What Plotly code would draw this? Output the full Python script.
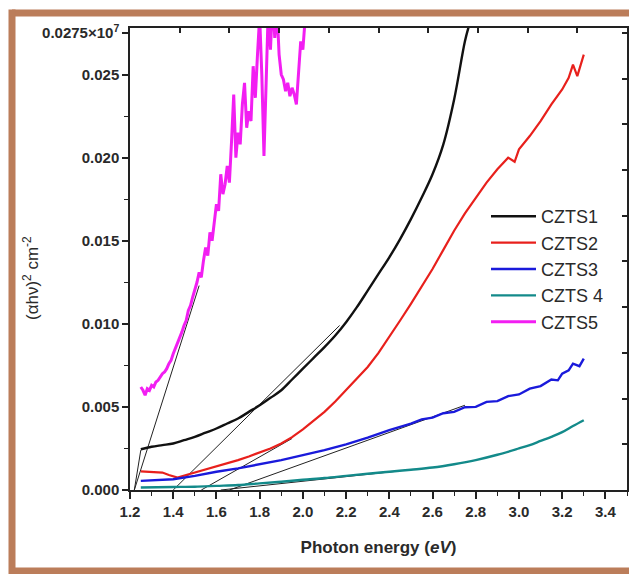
import plotly.graph_objects as go

# ---------------- data ----------------
czts1_x = [1.25, 1.30, 1.35, 1.40, 1.45, 1.50, 1.55, 1.60, 1.65, 1.70, 1.75, 1.80, 1.85, 1.90,
           1.95, 2.00, 2.05, 2.10, 2.15, 2.20, 2.25, 2.30, 2.35, 2.40, 2.45, 2.50, 2.55, 2.60,
           2.65, 2.70, 2.75, 2.77]
czts1_y = [0.00245, 0.0026, 0.0027, 0.0028, 0.0030, 0.0032, 0.00345, 0.0037, 0.0040, 0.0043,
           0.0047, 0.0051, 0.00555, 0.0060, 0.00665, 0.0073, 0.00795, 0.0086, 0.0093, 0.0101,
           0.0110, 0.0120, 0.0130, 0.0140, 0.0151, 0.0163, 0.0176, 0.0190, 0.0208, 0.0235,
           0.0270, 0.0280]

czts2_x = [1.25, 1.30, 1.35, 1.38, 1.42, 1.46, 1.50, 1.55, 1.60, 1.65, 1.70, 1.75, 1.80, 1.85,
           1.90, 1.95, 2.00, 2.05, 2.10, 2.15, 2.20, 2.25, 2.30, 2.35, 2.40, 2.45, 2.50, 2.55,
           2.60, 2.65, 2.70, 2.75, 2.80, 2.85, 2.90, 2.95, 2.98, 3.00, 3.05, 3.10, 3.15, 3.20,
           3.23, 3.25, 3.27, 3.30]
czts2_y = [0.00112, 0.00110, 0.00105, 0.00090, 0.00075, 0.00090, 0.00105, 0.00122, 0.00140,
           0.00160, 0.00180, 0.00202, 0.00225, 0.00250, 0.00280, 0.00318, 0.00365, 0.00415,
           0.00470, 0.00532, 0.00600, 0.00668, 0.00740, 0.00825, 0.00920, 0.01020, 0.01120,
           0.01225, 0.01330, 0.01445, 0.01560, 0.01665, 0.01760, 0.01850, 0.01930, 0.02000,
           0.01975, 0.02050, 0.02130, 0.02220, 0.02320, 0.02410, 0.02480, 0.02560, 0.02490,
           0.02620]

czts3_x = [1.25, 1.30, 1.40, 1.50, 1.60, 1.70, 1.80, 1.90, 2.00, 2.10, 2.20, 2.30, 2.40, 2.50,
           2.55, 2.60, 2.65, 2.70, 2.75, 2.80, 2.85, 2.90, 2.95, 3.00, 3.05, 3.10, 3.15, 3.18,
           3.20, 3.23, 3.25, 3.28, 3.30]
czts3_y = [0.00055, 0.00058, 0.00065, 0.00085, 0.00110, 0.00130, 0.00155, 0.00180, 0.00210,
           0.00240, 0.00275, 0.00315, 0.00360, 0.00400, 0.00425, 0.00435, 0.00462, 0.00470,
           0.00498, 0.00500, 0.00530, 0.00535, 0.00565, 0.00575, 0.00610, 0.00625, 0.00665,
           0.00660, 0.00700, 0.00720, 0.00760, 0.00745, 0.00790]

czts4_x = [1.25, 1.40, 1.50, 1.60, 1.70, 1.80, 1.90, 2.00, 2.10, 2.20, 2.30, 2.40, 2.50, 2.60,
           2.70, 2.80, 2.90, 3.00, 3.05, 3.10, 3.15, 3.20, 3.25, 3.30]
czts4_y = [0.00015, 0.00018, 0.00020, 0.00025, 0.00030, 0.00040, 0.00050, 0.00062, 0.00072,
           0.00085, 0.00098, 0.00110, 0.00122, 0.00135, 0.00155, 0.00180, 0.00212, 0.00250,
           0.00270, 0.00295, 0.00320, 0.00348, 0.00385, 0.00420]

czts5_x = [1.25, 1.26, 1.27, 1.28, 1.29, 1.30, 1.31, 1.32, 1.33, 1.34, 1.35, 1.36, 1.37, 1.38,
           1.39, 1.40, 1.41, 1.42, 1.43, 1.44, 1.45, 1.46, 1.47, 1.48, 1.49, 1.50, 1.51, 1.52,
           1.53, 1.54, 1.55, 1.56, 1.57, 1.58, 1.59, 1.60, 1.61, 1.62, 1.63, 1.64, 1.65, 1.66,
           1.67, 1.68, 1.69, 1.70, 1.71, 1.72, 1.73, 1.74, 1.75, 1.76, 1.77, 1.78, 1.79, 1.80,
           1.81, 1.82, 1.83, 1.84, 1.85, 1.86, 1.87, 1.88, 1.89, 1.90, 1.91, 1.92, 1.93, 1.94,
           1.95, 1.96, 1.97, 1.98, 1.99, 2.00, 2.01, 2.02]
czts5_y = [0.0062, 0.0060, 0.0057, 0.0061, 0.0060, 0.0063, 0.0062, 0.0065, 0.0066, 0.0068,
           0.0070, 0.0071, 0.0073, 0.0076, 0.0078, 0.0082, 0.0085, 0.0088, 0.0092, 0.0095,
           0.0099, 0.0102, 0.0108, 0.0111, 0.0116, 0.0120, 0.0125, 0.0131, 0.0128, 0.0138,
           0.0146, 0.0141, 0.0155, 0.0150, 0.0163, 0.0172, 0.0168, 0.0190, 0.0178, 0.0184,
           0.0195, 0.0185, 0.0210, 0.0238, 0.0200, 0.0215, 0.0208, 0.0232, 0.0245, 0.0218,
           0.0228, 0.0222, 0.0255, 0.0236, 0.0262, 0.0285, 0.0250, 0.0201, 0.0245, 0.0290,
           0.0265, 0.0295, 0.0272, 0.0290, 0.0262, 0.0250, 0.0247, 0.0240, 0.0245, 0.0237,
           0.0242, 0.0238, 0.0232, 0.0250, 0.0270, 0.0265, 0.0290, 0.0300]

# tangent (extrapolation) lines: [x0, x1], [y0, y1]
tangents = [
    ([1.22, 1.52], [0.0, 0.0123]),   # CZTS5
    ([1.22, 1.25], [0.0, 0.0024]),
    ([1.40, 2.17], [0.0, 0.0099]),   # CZTS1
    ([1.53, 1.95], [0.0, 0.0031]),   # CZTS2
    ([1.66, 2.75], [0.0, 0.0051]),   # CZTS3
    ([1.62, 2.45], [0.0, 0.00115]),  # CZTS4
]

names = ["CZTS1", "CZTS2", "CZTS3", "CZTS 4", "CZTS5"]
colors = ["#111111", "#e8201c", "#1a1adb", "#138a8a", "#f21ef2"]
series_x = [czts1_x, czts2_x, czts3_x, czts4_x, czts5_x]
series_y = [czts1_y, czts2_y, czts3_y, czts4_y, czts5_y]
widths = [2.4, 2.2, 2.4, 2.4, 3.0]
shapes_ = ["spline", "linear", "linear", "spline", "linear"]

y_tickvals = [0.0, 0.005, 0.010, 0.015, 0.020, 0.025, 0.0275]
y_ticktext = ["0.000", "0.005", "0.010", "0.015", "0.020", "0.025", "0.0275×10<sup>7</sup>"]

# ---------------- figure ----------------
FONT = "Liberation Sans, Arial, sans-serif"
TXT = "#2a2a2a"
YMAX = 0.0278

fig = go.Figure()

for tx, ty in tangents:
    fig.add_trace(go.Scatter(x=tx, y=ty, mode="lines", line=dict(color="#222222", width=1),
                             showlegend=False, hoverinfo="skip"))

for n, c, xs, ys, w, s in zip(names, colors, series_x, series_y, widths, shapes_):
    fig.add_trace(go.Scatter(x=xs, y=ys, mode="lines", name=n,
                             line=dict(color=c, width=w, shape=s)))

# dummy trace to activate the top/right mirror axes
fig.add_trace(go.Scatter(x=[1.2], y=[0], xaxis="x2", yaxis="y2", mode="markers",
                         marker=dict(opacity=0), showlegend=False, hoverinfo="skip"))

W, H = 629, 574
ML, MR, MT, MB = 130, 2, 28, 84
pw = W - ML - MR
ph = H - MT - MB

def px_x(p):
    return (p - ML) / pw

def px_y(p):
    return (H - MB - p) / ph

# brown frame around the figure
BROWN = "#bb7d5a"
fig.add_shape(type="line", xref="paper", yref="paper", x0=px_x(12), x1=px_x(700),
              y0=px_y(13), y1=px_y(13), line=dict(color=BROWN, width=7))
fig.add_shape(type="line", xref="paper", yref="paper", x0=px_x(12), x1=px_x(12),
              y0=px_y(9.5), y1=px_y(574.5), line=dict(color=BROWN, width=7))
fig.add_shape(type="line", xref="paper", yref="paper", x0=px_x(12), x1=px_x(700),
              y0=px_y(571), y1=px_y(571), line=dict(color=BROWN, width=7))

# y-axis title placed as an annotation (far from the long top tick label)
fig.add_annotation(text="(αhν)<sup>2</sup> cm<sup>-2</sup>", xref="paper", yref="paper",
                   x=px_x(31), y=px_y(278), textangle=-90, showarrow=False,
                   xanchor="center", yanchor="middle",
                   font=dict(family=FONT, size=17, color=TXT))

fig.update_layout(
    width=W, height=H,
    margin=dict(l=ML, r=MR, t=MT, b=MB),
    paper_bgcolor="white", plot_bgcolor="white",
    font=dict(family=FONT, color=TXT),
    xaxis=dict(range=[1.2, 3.5], showgrid=False, zeroline=False, showline=True,
               linecolor="#222", linewidth=1.5, ticks="outside", ticklen=7, tickwidth=1.5,
               tickcolor="#222", tick0=1.2, dtick=0.2, tickformat=".1f",
               tickfont=dict(family=FONT, size=15, color=TXT, weight="bold"),
               minor=dict(dtick=0.1, ticks="outside", ticklen=4, tickwidth=1.2, tickcolor="#222"),
               title=dict(text="Photon energy (<i>eV</i>)", standoff=22,
                          font=dict(family=FONT, size=17, color=TXT, weight="bold"))),
    yaxis=dict(range=[0, YMAX], showgrid=False, zeroline=False, showline=True,
               linecolor="#222", linewidth=1.5, ticks="outside", ticklen=6, tickwidth=1.5,
               tickcolor="#222", tickmode="array", tickvals=y_tickvals, ticktext=y_ticktext,
               tickfont=dict(family=FONT, size=15, color=TXT, weight="bold"),
               minor=dict(dtick=0.0025, ticks="outside", ticklen=4, tickwidth=1.2, tickcolor="#222")),
    xaxis2=dict(overlaying="x", side="top", anchor="y2", range=[1.2, 3.5], showgrid=False,
                zeroline=False, showline=True, linecolor="#222", linewidth=1.5, ticks="inside",
                ticklen=5, tickwidth=1.5, tickcolor="#222", tick0=1.2, dtick=0.23,
                showticklabels=False),
    yaxis2=dict(overlaying="y", side="right", anchor="x2", range=[0, YMAX], showgrid=False,
                zeroline=False, showline=True, linecolor="#222", linewidth=1.5, ticks="inside",
                ticklen=5, tickwidth=1.5, tickcolor="#222", tick0=0, dtick=0.00275,
                showticklabels=False),
    legend=dict(x=px_x(486), y=px_y(198), xanchor="left", yanchor="top",
                bgcolor="rgba(0,0,0,0)", font=dict(family=FONT, size=18, color=TXT),
                tracegroupgap=0, itemwidth=45),
    showlegend=True,
)

fig.write_html("out.html")
